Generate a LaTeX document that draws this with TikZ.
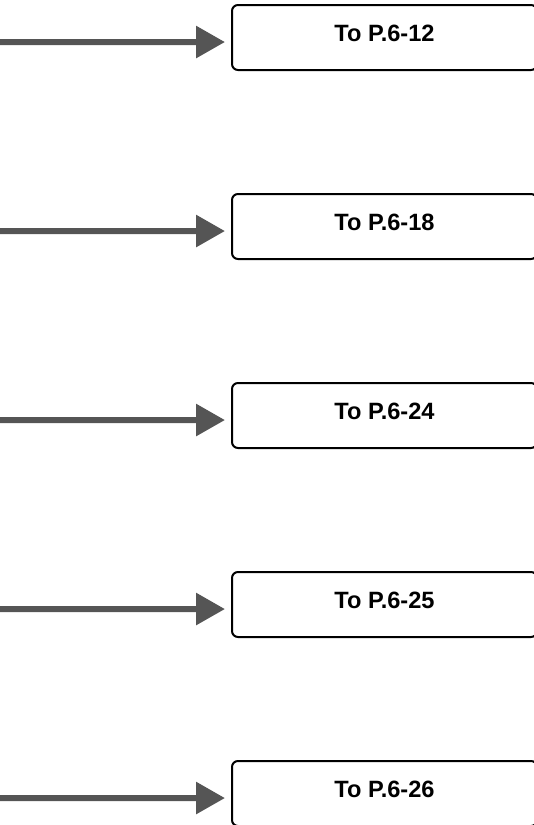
\documentclass[tikz,border=0pt]{standalone}
\usepackage{fontspec}
\setmainfont{Liberation Sans}
\usetikzlibrary{arrows.meta,positioning}
\definecolor{arrgray}{RGB}{85,85,85}
\tikzset{
  pagebox/.style={draw=black,line width=1.5pt,rounded corners=4.5pt,inner sep=0pt,
    minimum width=228.75pt,minimum height=48.75pt,
    font=\bfseries\fontsize{17.7}{20}\selectfont,text height=12.5pt,text depth=6pt},
  goarr/.style={-{Triangle[length=21.75pt,width=23.25pt]},line width=4.5pt,arrgray},
}

\begin{document}
\begin{tikzpicture}[x=0.75pt,y=-0.75pt]
\useasboundingbox (0,0) rectangle (534,825);
% one box per target page, with an arrow coming in from the left edge
\foreach \pg [count=\i] in {6-12,6-18,6-24,6-25,6-26}{
  \node[pagebox] (box\i) at (384.5,{37.5+189*(\i-1)}) {To P.\pg};
  \coordinate (src\i) at (-5,{42+189*(\i-1)});
  \draw[goarr] (src\i) -- ([xshift=-4.5pt,yshift=-3.4pt]box\i.west);
}
\end{tikzpicture}
\end{document}
